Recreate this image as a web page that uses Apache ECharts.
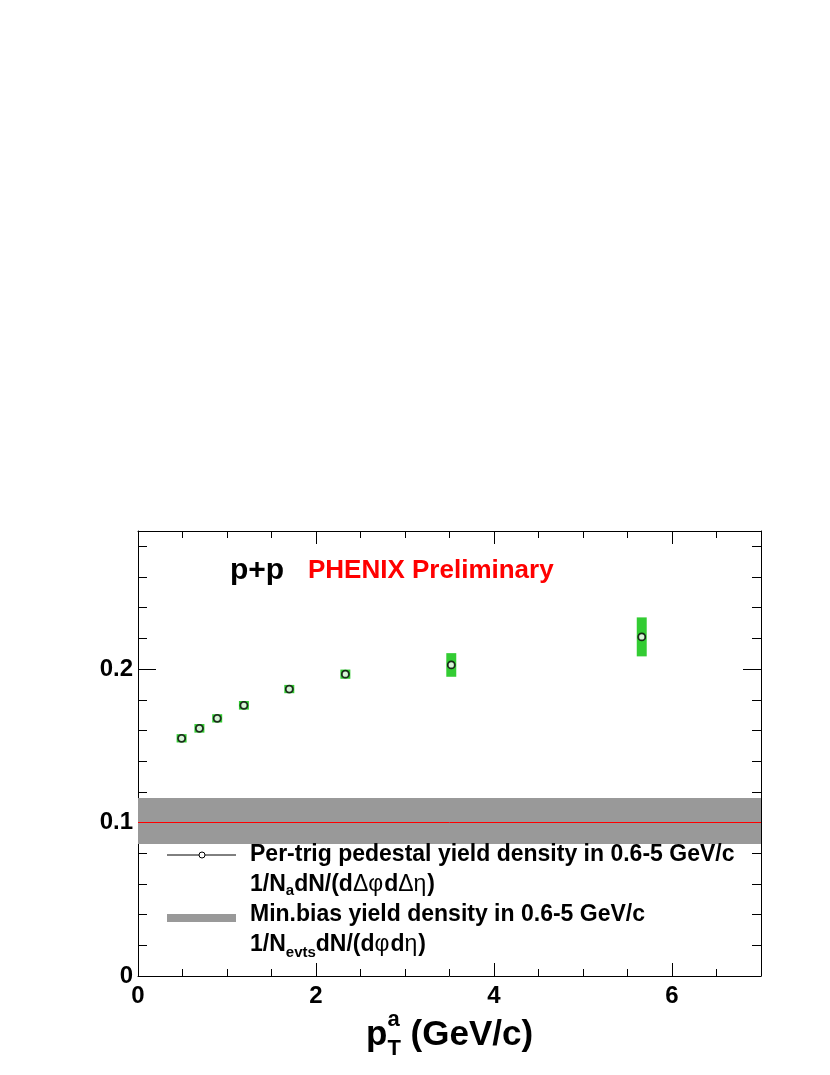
<!DOCTYPE html>
<html><head><meta charset="utf-8">
<script src="https://cdn.jsdelivr.net/npm/echarts@6/dist/echarts.min.js"></script>
<style>html,body{margin:0;padding:0;background:#fff}#c{width:830px;height:1075px}</style>
</head><body><div id="c"></div>
<script>
// ---- data ----
const pT       = [0.49, 0.69, 0.89, 1.19, 1.70, 2.33, 3.52, 5.66];
const yieldDen = [0.1549, 0.1614, 0.1679, 0.1764, 0.1870, 0.1967, 0.2027, 0.2210];
const sysErr   = [0.0027, 0.0028, 0.0027, 0.0028, 0.0027, 0.0030, 0.0077, 0.0127];
const pTHalfWidth = 0.056;
const minBias = 0.101;
const minBiasErr = 0.015;
const xTicks = [0, 2, 4, 6];
const yTicks = [0, 0.1, 0.2];

const FONT = "'Liberation Sans', Arial, Helvetica, sans-serif";
const chart = echarts.init(document.getElementById('c'));
const mctx = document.createElement('canvas').getContext('2d');

function richText(x, y, segs) {
  const els = []; let cx = x;
  segs.forEach(s => {
    const w = s.w || 'bold';
    mctx.font = `${w} ${s.size}px ${FONT}`;
    const width = mctx.measureText(s.t).width;
    els.push({type: 'text', x: cx, y: y + (s.dy || 0), z: 100,
      style: {text: s.t, fontSize: s.size, fontWeight: w, fontFamily: FONT,
              fill: s.c || '#000', align: 'left', verticalAlign: 'middle'}});
    if (!s.noAdvance) cx += width + (s.gap || 0);
  });
  return els;
}

function xAx(pos, interval, len, line, label) {
  return {type: 'value', position: pos, min: 0, max: 7, interval: interval,
    axisLine: {show: line, onZero: false, lineStyle: {color: '#000', width: 1}},
    axisTick: {show: true, inside: true, length: len, lineStyle: {color: '#000', width: 1}},
    splitLine: {show: false},
    axisLabel: {show: label, showMaxLabel: false, margin: 8, color: '#000',
      fontSize: 24, fontWeight: 'bold', fontFamily: FONT,
      formatter: v => xTicks.includes(v) ? String(v) : ''}};
}
function yAx(pos, interval, len, line, label) {
  return {type: 'value', position: pos, min: 0, max: 0.29, interval: interval,
    axisLine: {show: line, onZero: false, lineStyle: {color: '#000', width: 1}},
    axisTick: {show: true, inside: true, length: len, lineStyle: {color: '#000', width: 1}},
    splitLine: {show: false},
    axisLabel: {show: label, showMaxLabel: false, margin: 5, color: '#000',
      fontSize: 24, fontWeight: 'bold', fontFamily: FONT,
      formatter: v => { const t = yTicks.find(k => Math.abs(k - v) < 1e-9);
        return t === undefined ? '' : (t === 0 ? '0' : t.toFixed(1)); }}};
}

const graphics = [].concat(
  richText(230, 571, [{t: 'p+p', size: 30}]),
  richText(308, 571, [{t: 'PHENIX Preliminary', size: 26, c: '#ff0000'}]),
  [
    {type: 'line', z: 100, shape: {x1: 167, y1: 855, x2: 236, y2: 855}, style: {stroke: '#000', lineWidth: 1}},
    {type: 'circle', z: 101, shape: {cx: 202, cy: 855, r: 3}, style: {fill: '#fff', stroke: '#000', lineWidth: 1}},
    {type: 'rect', z: 100, shape: {x: 167, y: 914, width: 69, height: 8}, style: {fill: '#999999'}}
  ],
  richText(250, 855, [{t: 'Per-trig pedestal yield density in 0.6-5 GeV/c', size: 23}]),
  richText(250, 885, [{t: '1/N', size: 23}, {t: 'a', size: 15, dy: 6}, {t: 'dN/(d', size: 23},
                      {t: 'Δ', size: 23, w: 'normal'}, {t: 'φ', size: 23, w: 'normal', gap: 1},
                      {t: 'd', size: 23}, {t: 'Δ', size: 23, w: 'normal'}, {t: 'η', size: 23, w: 'normal', gap: 1},
                      {t: ')', size: 23}]),
  richText(250, 915, [{t: 'Min.bias yield density in 0.6-5 GeV/c', size: 23}]),
  richText(250, 945, [{t: '1/N', size: 23}, {t: 'evts', size: 15, dy: 8}, {t: 'dN/(d', size: 23},
                      {t: 'φ', size: 23, w: 'normal', gap: 1}, {t: 'd', size: 23},
                      {t: 'η', size: 23, w: 'normal', gap: 1}, {t: ')', size: 23}]),
  richText(366, 1035, [{t: 'p', size: 35}, {t: 'a', size: 22, dy: -15, noAdvance: true},
                       {t: 'T', size: 22, dy: 14}, {t: ' (GeV/c)', size: 35}])
);

const boxData = pT.map((x, i) => [x, yieldDen[i], sysErr[i]]);
const ptData = pT.map((x, i) => [x, yieldDen[i]]);

chart.setOption({
  backgroundColor: '#fff',
  animation: false,
  grid: {left: 138, top: 531, right: 69, bottom: 99, containLabel: false},
  xAxis: [xAx('bottom', 2, 13, true, true), xAx('bottom', 0.5, 7, false, false),
          xAx('top', 2, 13, true, false), xAx('top', 0.5, 7, false, false)],
  yAxis: [yAx('left', 0.1, 18, true, true), yAx('left', 0.02, 9, false, false),
          yAx('right', 0.1, 18, true, false), yAx('right', 0.02, 9, false, false)],
  graphic: graphics,
  series: [
    {type: 'line', data: [], xAxisIndex: 0, yAxisIndex: 0, silent: true,
     markArea: {silent: true, itemStyle: {color: '#999999', opacity: 1},
       data: [[{yAxis: minBias - minBiasErr}, {yAxis: minBias + minBiasErr}]]},
     markLine: {silent: true, symbol: ['none', 'none'], label: {show: false},
       lineStyle: {color: '#ff0000', width: 1, type: 'solid'}, data: [{yAxis: minBias}]}},
    {type: 'custom', xAxisIndex: 0, yAxisIndex: 0, data: boxData, z: 3,
     renderItem: (params, api) => {
       const x = api.value(0), y = api.value(1), e = api.value(2);
       const p1 = api.coord([x - pTHalfWidth, y + e]);
       const p2 = api.coord([x + pTHalfWidth, y - e]);
       return {type: 'rect', shape: {x: p1[0], y: p1[1], width: p2[0] - p1[0], height: p2[1] - p1[1]},
               style: {fill: '#33cc33'}};
     }},
    {type: 'scatter', xAxisIndex: 0, yAxisIndex: 0, data: ptData, z: 5,
     symbol: 'circle', symbolSize: 7,
     itemStyle: {color: '#ffffff', borderColor: '#000', borderWidth: 1.8}}
  ]
});
</script></body></html>
